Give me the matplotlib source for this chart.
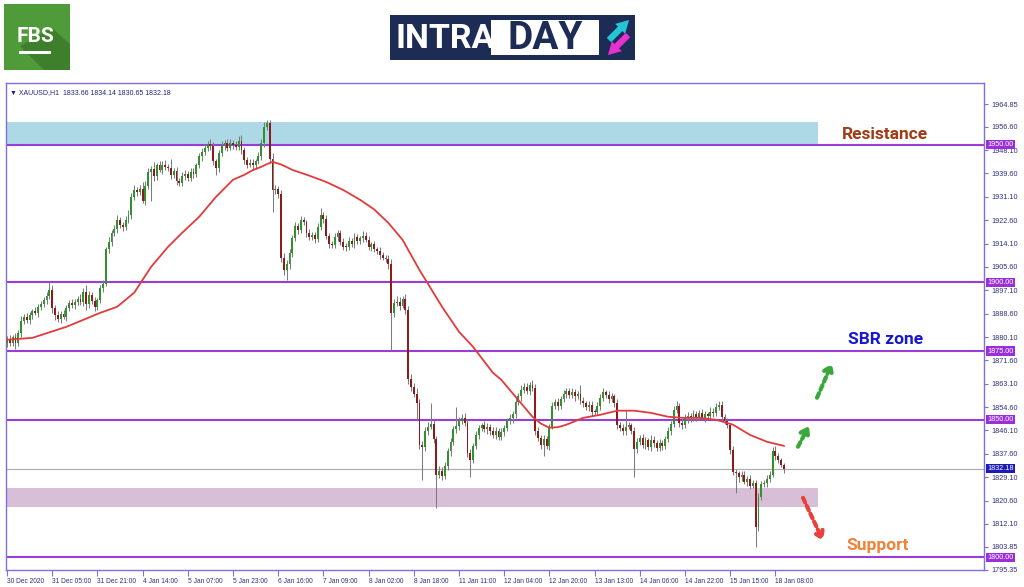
import matplotlib
matplotlib.use("Agg")
import matplotlib.pyplot as plt
import numpy as np
from matplotlib.patches import Rectangle, Polygon

# ---------------- data ----------------
first_open = 1878.0
closes = [
    1879.5, 1878.0, 1880.2, 1877.8, 1881.5, 1886.0, 1887.5, 1886.2, 1888.0, 1889.5,
    1889.0, 1891.2, 1892.0, 1893.5, 1895.0, 1897.2, 1890.5, 1888.0, 1886.8, 1888.5,
    1887.5, 1890.8, 1892.5, 1891.8, 1893.0, 1893.8, 1892.9, 1896.5, 1892.0, 1895.5,
    1893.2, 1891.0, 1893.5, 1897.8, 1899.5, 1912.0, 1914.5, 1918.0, 1919.5, 1922.5,
    1921.0, 1920.2, 1922.8, 1924.5, 1931.0, 1933.5, 1932.8, 1934.0, 1929.5, 1935.0,
    1940.0, 1941.2, 1938.5, 1942.5, 1941.0, 1942.8, 1942.0, 1941.5, 1939.0, 1940.5,
    1937.0, 1936.2, 1938.8, 1939.5, 1938.0, 1940.2, 1939.4, 1942.5, 1945.8, 1947.5,
    1948.8, 1950.2, 1949.5, 1944.0, 1941.5, 1947.0, 1949.8, 1950.5, 1949.0, 1950.8,
    1950.0, 1949.2, 1951.5, 1948.0, 1944.5, 1942.8, 1943.5, 1942.5, 1944.0, 1946.0,
    1950.5, 1956.5, 1958.0, 1945.0, 1933.5, 1934.0, 1932.0, 1909.0, 1904.5, 1906.5,
    1910.5, 1916.0, 1920.5, 1919.0, 1922.5, 1921.8, 1918.0, 1916.5, 1917.2, 1915.8,
    1920.0, 1924.5, 1923.0, 1917.0, 1914.0, 1913.5, 1916.5, 1918.0, 1914.5, 1913.0,
    1912.8, 1915.0, 1914.0, 1916.5, 1915.0, 1916.0, 1917.0, 1915.5, 1913.0, 1913.8,
    1912.0, 1911.5, 1910.0, 1909.0, 1908.5, 1906.5, 1889.0, 1892.5, 1893.0, 1891.5,
    1893.8, 1890.0, 1865.0, 1862.0, 1859.5, 1856.0, 1841.0, 1840.0, 1846.0, 1847.5,
    1848.5, 1843.0, 1830.0, 1831.5, 1829.5, 1833.0, 1838.5, 1842.0, 1846.5, 1847.8,
    1849.5, 1850.8, 1849.0, 1838.0, 1835.5, 1840.5, 1844.5, 1847.0, 1848.0, 1846.5,
    1847.5, 1845.8, 1844.5, 1846.0, 1843.8, 1845.5, 1847.0, 1849.5, 1850.5, 1852.0,
    1856.5, 1858.5, 1861.0, 1862.0, 1860.5, 1862.8, 1861.5, 1846.0, 1843.5, 1841.0,
    1843.0, 1840.5, 1847.5, 1855.0, 1856.5, 1855.0, 1857.5, 1859.5, 1860.5, 1859.0,
    1860.0, 1858.5, 1859.5, 1857.0, 1856.0, 1854.5, 1855.5, 1853.0, 1852.8, 1855.0,
    1858.0, 1860.0, 1859.0, 1857.5, 1858.5, 1856.0, 1848.0, 1847.0, 1845.8, 1847.5,
    1848.0, 1846.0, 1839.5, 1842.0, 1843.5, 1841.0, 1842.5, 1840.0, 1842.8, 1841.5,
    1839.8, 1841.5, 1840.5, 1843.0, 1846.0, 1848.5, 1853.5, 1855.0, 1849.0, 1848.0,
    1850.5, 1851.5, 1850.5, 1852.0, 1851.0, 1852.5, 1850.8, 1852.0, 1851.5, 1853.0,
    1852.5, 1854.5, 1855.5, 1851.0, 1849.5, 1848.0, 1839.0, 1831.0, 1830.5, 1829.0,
    1830.0, 1827.5, 1828.5, 1826.0, 1827.0, 1811.0, 1822.0, 1826.5, 1827.0, 1828.5,
    1830.0, 1838.5, 1837.0, 1835.5, 1833.66, 1832.18,
]
up_wick = [
    1.0, 1.5, 0.8, 1.2, 1.0, 1.8, 1.0, 1.5, 1.2, 0.8,
    1.5, 0.9, 1.2, 1.0, 1.5, 2.8, 2.0, 1.2, 1.5, 1.0,
    1.3, 0.8, 1.2, 1.6, 1.0, 1.2, 2.0, 1.5, 2.5, 1.2,
    1.0, 1.5, 0.8, 1.2, 1.5, 1.0, 1.8, 1.2, 1.5, 2.0,
    1.2, 1.0, 1.5, 1.8, 1.5, 2.0, 1.2, 1.5, 2.5, 1.8,
    1.5, 1.2, 2.5, 1.0, 1.5, 1.2, 1.8, 1.0, 3.5, 1.2,
    1.5, 1.0, 1.2, 1.5, 1.0, 1.2, 1.5, 1.0, 1.2, 1.5,
    1.5, 1.2, 1.8, 1.5, 1.0, 1.2, 1.5, 1.2, 1.8, 1.5,
    1.0, 1.5, 1.8, 2.0, 1.2, 1.0, 1.5, 1.2, 1.0, 1.5,
    1.5, 1.8, 1.0, 1.2, 2.0, 1.5, 1.2, 1.5, 1.5, 1.5,
    1.5, 1.2, 1.5, 1.0, 1.5, 1.2, 1.0, 1.5, 1.2, 1.0,
    1.5, 2.5, 1.2, 1.5, 1.0, 1.2, 1.5, 1.2, 1.0, 1.5,
    1.2, 1.5, 1.0, 1.5, 1.2, 1.0, 1.5, 1.2, 1.5, 1.0,
    1.2, 1.0, 1.5, 1.2, 1.0, 1.5, 2.0, 1.5, 2.0, 1.5,
    1.2, 2.0, 1.5, 1.5, 1.2, 2.0, 1.5, 1.2, 1.5, 1.8,
    7.5, 1.5, 1.2, 1.5, 1.2, 1.5, 1.2, 1.5, 1.2, 7.0,
    1.5, 1.2, 1.5, 1.2, 1.5, 1.2, 1.5, 1.2, 1.0, 1.5,
    1.2, 1.0, 1.5, 1.2, 1.0, 1.5, 1.2, 1.0, 1.5, 1.2,
    1.5, 1.2, 1.5, 1.5, 1.2, 1.0, 1.5, 1.5, 1.2, 1.0,
    1.5, 1.2, 1.0, 1.5, 1.2, 1.5, 1.0, 1.5, 1.2, 1.0,
    1.5, 1.2, 1.0, 3.2, 1.2, 1.0, 1.5, 1.2, 1.0, 1.5,
    1.2, 1.5, 1.0, 1.5, 1.2, 1.0, 1.5, 1.2, 1.5, 6.0,
    1.2, 1.0, 1.5, 1.2, 1.0, 1.5, 1.2, 1.0, 1.5, 1.2,
    1.0, 1.5, 1.2, 1.0, 1.5, 1.2, 1.5, 2.0, 1.2, 1.0,
    1.5, 1.2, 1.0, 1.5, 1.2, 1.0, 1.5, 1.2, 1.0, 1.5,
    1.2, 1.5, 1.5, 1.2, 1.0, 1.2, 1.0, 1.5, 1.2, 1.0,
    1.5, 1.2, 1.0, 1.5, 1.2, 1.0, 1.5, 1.2, 1.0, 1.5,
    1.2, 1.5, 1.8, 1.0, 0.48, 0.48,
]
dn_wick = [
    1.5, 1.0, 1.2, 2.0, 1.0, 1.5, 1.2, 1.0, 1.5, 1.2,
    1.0, 1.5, 1.2, 1.0, 1.5, 1.2, 1.5, 1.8, 1.2, 1.5,
    1.0, 1.5, 1.2, 1.0, 1.5, 1.2, 1.0, 1.5, 2.0, 1.5,
    1.2, 1.5, 1.0, 1.2, 1.5, 1.0, 1.5, 1.2, 1.0, 1.5,
    1.2, 1.5, 1.0, 1.2, 1.5, 1.0, 1.5, 1.2, 0.5, 1.5,
    1.2, 10.5, 1.5, 1.2, 1.0, 1.5, 1.2, 1.0, 1.5, 1.2,
    1.5, 1.2, 1.0, 1.5, 1.2, 1.0, 1.5, 1.2, 1.0, 1.5,
    1.2, 1.0, 1.5, 1.5, 2.5, 1.2, 1.0, 1.5, 1.2, 1.0,
    1.5, 1.2, 1.0, 1.5, 1.5, 1.2, 1.0, 1.5, 1.2, 1.0,
    1.5, 1.2, 1.0, 1.5, 7.9, 1.5, 1.2, 1.5, 2.0, 3.5,
    1.5, 1.2, 1.0, 1.5, 1.2, 1.0, 1.5, 1.2, 1.0, 1.5,
    1.2, 1.0, 1.5, 1.2, 1.5, 1.0, 1.2, 1.5, 1.0, 1.2,
    1.5, 1.0, 1.2, 1.5, 1.0, 1.2, 1.5, 1.0, 1.2, 1.5,
    1.0, 1.2, 1.5, 1.0, 1.2, 1.5, 13.5, 1.5, 1.2, 1.5,
    1.0, 1.5, 2.0, 1.5, 1.2, 6.0, 1.5, 12.0, 1.2, 1.5,
    1.0, 1.5, 12.0, 1.2, 1.5, 1.0, 1.2, 1.5, 1.0, 1.2,
    1.5, 1.0, 1.2, 1.5, 6.5, 1.2, 1.0, 1.5, 1.2, 1.0,
    1.5, 1.2, 1.0, 1.5, 1.2, 1.0, 1.5, 1.2, 1.0, 1.5,
    1.2, 1.0, 1.5, 1.2, 1.0, 1.5, 1.2, 1.5, 1.2, 1.5,
    4.0, 1.2, 1.5, 1.0, 1.2, 1.5, 1.0, 1.2, 1.5, 1.0,
    1.2, 1.5, 1.0, 1.2, 1.5, 1.0, 1.2, 1.5, 1.0, 1.2,
    1.5, 1.0, 1.2, 1.5, 1.0, 1.2, 1.5, 1.0, 1.2, 1.5,
    1.0, 1.2, 10.5, 1.5, 1.0, 1.2, 1.5, 1.0, 1.2, 1.5,
    1.2, 1.0, 1.5, 1.2, 1.0, 1.5, 1.2, 1.0, 1.5, 1.2,
    1.0, 1.5, 1.2, 1.0, 1.5, 1.2, 1.0, 1.5, 1.2, 1.0,
    1.5, 1.2, 1.0, 1.5, 1.2, 1.0, 1.5, 1.2, 7.0, 1.5,
    1.2, 1.0, 1.5, 1.2, 1.0, 7.2, 1.5, 1.2, 1.0, 1.5,
    1.2, 1.0, 1.5, 1.2, 1.0, 1.53,
]
ma_idx = [0, 9, 21, 33, 39, 45, 51, 57, 62, 68, 74, 80, 84, 87, 90, 92, 94, 97, 101,
          107, 113, 119, 125, 130, 135, 140, 146, 154, 160, 165, 172, 175, 180, 186,
          189, 192, 195, 198, 204, 210, 216, 222, 228, 234, 239, 245, 251, 257, 263,
          269, 275]
ma_val = [1879.1, 1879.8, 1883.8, 1888.9, 1891.1, 1896.2, 1905.6, 1912.9, 1918.0,
          1923.8, 1931.1, 1937.3, 1939.1, 1940.8, 1942.0, 1943.0, 1943.8, 1942.9,
          1940.9, 1938.8, 1936.5, 1933.6, 1930.0, 1926.5, 1921.6, 1915.5, 1904.5,
          1891.1, 1882.0, 1876.5, 1867.1, 1864.5, 1858.4, 1851.1, 1848.6, 1847.1,
          1847.3, 1848.2, 1850.7, 1851.8, 1853.3, 1853.3, 1852.5, 1851.1, 1850.7,
          1850.7, 1850.0, 1848.2, 1844.5, 1842.0, 1840.5]
x_tick_labels = ["30 Dec 2020", "31 Dec 05:00", "31 Dec 21:00", "4 Jan 14:00",
                 "5 Jan 07:00", "5 Jan 23:00", "6 Jan 16:00", "7 Jan 09:00",
                 "8 Jan 02:00", "8 Jan 18:00", "11 Jan 11:00", "12 Jan 04:00",
                 "12 Jan 20:00", "13 Jan 13:00", "14 Jan 06:00", "14 Jan 22:00",
                 "15 Jan 15:00", "18 Jan 08:00"]
y_tick_vals = [1795.35, 1803.85, 1812.10, 1820.60, 1829.10, 1837.60, 1846.10,
               1854.60, 1863.10, 1871.60, 1880.10, 1888.60, 1897.10, 1905.60,
               1914.10, 1922.60, 1931.10, 1939.60, 1948.10, 1956.60, 1964.85]
levels = [1950.0, 1900.0, 1875.0, 1850.0, 1800.0]
last_price = 1832.18
resistance_zone = (1950.0, 1958.4)
support_zone = (1818.4, 1825.3)

# ---------------- figure ----------------
W, H = 1024, 587
fig = plt.figure(figsize=(W / 100, H / 100), dpi=100)
fig.patch.set_facecolor("white")
small_font = ["Liberation Sans", "DejaVu Sans"]

# header overlay (pixel coordinates)
ov = fig.add_axes([0, 0, 1, 1])
ov.set_xlim(0, W)
ov.set_ylim(H, 0)
ov.axis("off")

# FBS logo
ov.add_patch(Rectangle((4, 4), 66, 66, fc="#4f9b39", ec="none"))
ov.add_patch(Polygon([(20, 46), (52, 28), (70, 44), (70, 70), (44, 70)],
                     closed=True, fc="#3e7f2b", ec="none"))
ov.text(35, 37, "FBS", color="white", fontsize=15, fontweight="bold",
        family="Roboto", ha="center", va="center")
ov.add_patch(Rectangle((19, 51), 32, 3, fc="white", ec="none"))

# INTRADAY logo
ov.add_patch(Rectangle((390, 15), 245, 45, fc="#1c2c54", ec="none"))
ov.add_patch(Rectangle((491, 20), 108, 35, fc="white", ec="none"))
ov.text(395, 38.5, "INTRA", color="white", fontsize=24.5, fontweight="bold",
        family="Roboto", ha="left", va="center")
ov.text(545, 38.5, "DAY", color="#1c2c54", fontsize=28, fontweight="bold",
        family="Roboto", ha="center", va="center")
ov.annotate("", xy=(631, 18), xytext=(607, 42),
            arrowprops=dict(arrowstyle="simple,head_width=1.0,head_length=0.9,tail_width=0.45",
                            color="#24c6d6", lw=0))
ov.annotate("", xy=(606, 57), xytext=(630, 33),
            arrowprops=dict(arrowstyle="simple,head_width=1.0,head_length=0.9,tail_width=0.45",
                            color="#e832d0", lw=0))

# main chart axes
left_px, right_px, top_px, bot_px = 6, 984, 83, 570
ax = fig.add_axes([left_px / W, (H - bot_px) / H, (right_px - left_px) / W,
                   (bot_px - top_px) / H])
ax.set_facecolor("white")
px_per_bar = 2.825
x0_px = 7.0
ax.set_xlim((left_px - x0_px) / px_per_bar, (right_px - x0_px) / px_per_bar)
ax.set_ylim(1795.35, 1972.5)

closes_a = np.array(closes)
opens_a = np.concatenate([[first_open], closes_a[:-1]])
highs_a = np.maximum(opens_a, closes_a) + np.array(up_wick)
lows_a = np.minimum(opens_a, closes_a) - np.array(dn_wick)
idx = np.arange(len(closes_a))
xmin = ax.get_xlim()[0]
zone_end = (818 - x0_px) / px_per_bar

# zones
ax.add_patch(Rectangle((xmin, resistance_zone[0]), zone_end - xmin,
                       resistance_zone[1] - resistance_zone[0],
                       fc="#add8e6", ec="none", zorder=1))
ax.add_patch(Rectangle((xmin, support_zone[0]), zone_end - xmin,
                       support_zone[1] - support_zone[0],
                       fc="#d8bfd8", ec="none", zorder=1))

# level lines
for lv in levels:
    ax.axhline(lv, color="#9a3cd6", lw=1.5, zorder=2)
ax.axhline(last_price, color="#b0b0b0", lw=0.9, zorder=2)

# candles
ax.vlines(idx, lows_a, highs_a, color="#7c7c7c", lw=0.75, zorder=3)
bull = closes_a >= opens_a
body_h = np.maximum(np.abs(closes_a - opens_a), 0.3)
body_b = np.minimum(opens_a, closes_a)
cols = np.where(bull, "#2f922f", "#8a1c1c")
ax.bar(idx, body_h, bottom=body_b, width=0.66, color=cols, lw=0, zorder=4)

# moving average
ax.plot(ma_idx, ma_val, color="#e23b3b", lw=1.3, zorder=5, solid_joinstyle="round")

# axes styling
frame_col = "#7f6fe0"
for s in ax.spines.values():
    s.set_color(frame_col)
    s.set_linewidth(1.0)
ax.yaxis.tick_right()
ax.set_yticks(y_tick_vals)
ax.set_yticklabels([f"{v:.2f}" for v in y_tick_vals], family=small_font)
ax.tick_params(axis="y", colors=frame_col, labelcolor="#2f2f7f", length=3,
               width=0.8, labelsize=5.2, pad=2)
ax.set_xticks(np.arange(0, 16 * len(x_tick_labels), 16))
ax.set_xticklabels(x_tick_labels, family=small_font)
ax.tick_params(axis="x", colors=frame_col, labelcolor="#2f2f7f", length=4,
               width=0.8, labelsize=4.8, pad=2)
for lbl in ax.get_xticklabels():
    lbl.set_ha("left")

# highlighted price labels
for lv in levels:
    ax.annotate(f"{lv:.2f}", xy=(1.0, lv), xycoords=("axes fraction", "data"),
                xytext=(2.5, 0), textcoords="offset points", ha="left",
                va="center", fontsize=5.2, family=small_font, color="white",
                zorder=10,
                bbox=dict(boxstyle="square,pad=0.15", fc="#9a2fd9", ec="none"),
                annotation_clip=False)
ax.annotate(f"{last_price:.2f}", xy=(1.0, last_price),
            xycoords=("axes fraction", "data"), xytext=(2.5, 0),
            textcoords="offset points", ha="left", va="center", fontsize=5.2,
            family=small_font, color="white", zorder=10,
            bbox=dict(boxstyle="square,pad=0.15", fc="#1a1ab8", ec="none"),
            annotation_clip=False)

# symbol header
ax.text(0.004, 0.988, "\u25BC XAUUSD,H1  1833.66 1834.14 1830.65 1832.18",
        transform=ax.transAxes, fontsize=5, color="#23237a", va="top", ha="left",
        family=["Liberation Sans", "DejaVu Sans"])

# annotations
def bx(px):
    return (px - x0_px) / px_per_bar

ax.text(bx(842), 1953.6, "Resistance", color="#a13a16", fontsize=12.5,
        fontweight="bold", family="Roboto", ha="left", va="center", zorder=6)
ax.text(bx(848), 1879.1, "SBR zone", color="#1616d4", fontsize=12.5,
        fontweight="bold", family="Roboto", ha="left", va="center", zorder=6)
ax.text(bx(846), 1804.2, "Support", color="#f08238", fontsize=12.5,
        fontweight="bold", family="Roboto", ha="left", va="center", zorder=6)

def dashed_arrow(p0, p1, color):
    (xa, ya), (xb, yb) = p0, p1
    ax.annotate("", xy=(xb, yb), xytext=(xa, ya),
                arrowprops=dict(arrowstyle="->,head_length=0.45,head_width=0.3",
                                color=color, lw=3, linestyle=(0, (1.2, 0.9)),
                                shrinkA=0, shrinkB=0), zorder=7)

dashed_arrow((bx(798), 1840.2), (bx(809), 1847.8), "#39a83a")
dashed_arrow((bx(817), 1858.0), (bx(832), 1870.5), "#39a83a")
dashed_arrow((bx(803), 1821.6), (bx(823), 1806.0), "#e8403a")

fig.savefig("out.png", dpi=100, facecolor="white")
